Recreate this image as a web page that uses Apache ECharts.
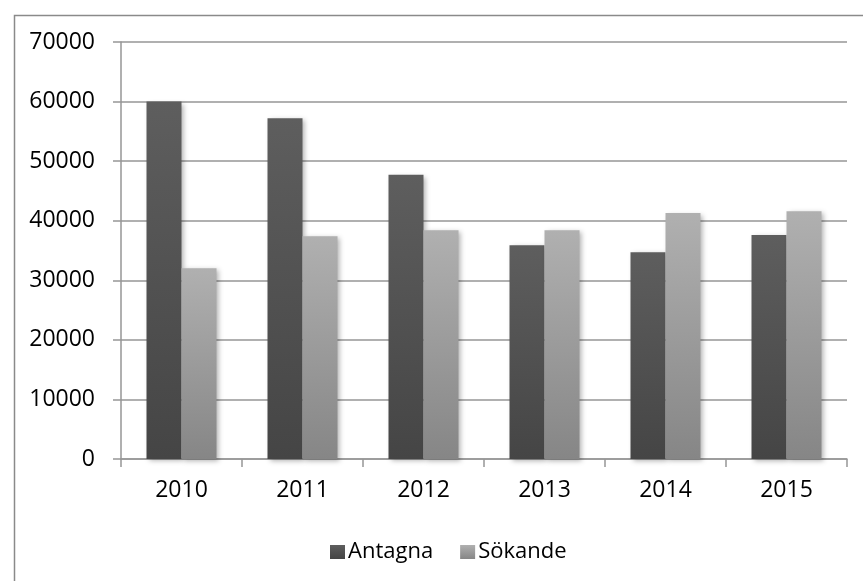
<!DOCTYPE html>
<html>
<head>
<meta charset="utf-8">
<script src="https://cdn.jsdelivr.net/npm/echarts@6/dist/echarts.min.js"></script>
<style>
  html, body { margin: 0; padding: 0; background: #fff; }
  #chart { width: 863px; height: 581px; }
</style>
</head>
<body>
<div id="chart"></div>
<script>
const years = ['2010', '2011', '2012', '2013', '2014', '2015'];
const antagna = [60000, 57200, 47700, 35900, 34700, 37600];
const sokande = [32000, 37400, 38400, 38400, 41300, 41600];
const yTicks = [0, 10000, 20000, 30000, 40000, 50000, 60000, 70000];

const fontFamily = '"Open Sans", "Liberation Sans", sans-serif';
const lineColor = '#969696';

const grad = (top, bottom) => new echarts.graphic.LinearGradient(0, 0, 0, 1, [
    { offset: 0, color: top },
    { offset: 1, color: bottom }
]);

let chartDom = document.getElementById('chart');
let myChart = echarts.init(chartDom);
let option;

const barShadow = {
    shadowBlur: 5,
    shadowOffsetX: 2,
    shadowOffsetY: 2,
    shadowColor: 'rgba(0,0,0,0.3)'
};

option = {
    animation: false,
    textStyle: { fontFamily: fontFamily },
    graphic: [
        {
            type: 'rect',
            left: 12,
            top: 13,
            shape: { width: 900, height: 620 },
            style: { fill: 'none', stroke: '#8a8a8a', lineWidth: 1.5 },
            silent: true
        }
    ],
    grid: {
        left: 121,
        right: 16,
        top: 42,
        bottom: 122
    },
    legend: {
        left: 325,
        top: 536,
        itemWidth: 15,
        itemHeight: 14,
        itemGap: 27,
        icon: 'rect',
        textStyle: { fontSize: 22, color: '#000', fontFamily: fontFamily, padding: [0, 0, 0, -2] },
        data: ['Antagna', 'Sökande']
    },
    xAxis: {
        type: 'category',
        data: years,
        axisLine: { lineStyle: { color: lineColor, width: 1.5 } },
        axisTick: { show: true, length: 8, lineStyle: { color: lineColor, width: 1.5 } },
        axisLabel: { fontSize: 23, color: '#000', margin: 20, fontFamily: fontFamily }
    },
    yAxis: {
        type: 'value',
        min: yTicks[0],
        max: yTicks[yTicks.length - 1],
        interval: 10000,
        axisLine: { show: true, lineStyle: { color: lineColor, width: 1.5 } },
        axisTick: { show: true, length: 8, lineStyle: { color: lineColor, width: 1.5 } },
        splitLine: { lineStyle: { color: lineColor, width: 1.5 } },
        axisLabel: {
            fontSize: 23,
            color: '#000',
            margin: 26,
            fontFamily: fontFamily,
            formatter: v => String(v)
        }
    },
    series: [
        {
            name: 'Antagna',
            type: 'bar',
            barWidth: 35,
            barGap: '0%',
            itemStyle: Object.assign({ color: grad('#5e5e5e', '#454545') }, barShadow),
            data: antagna
        },
        {
            name: 'Sökande',
            type: 'bar',
            barWidth: 35,
            barGap: '0%',
            itemStyle: Object.assign({ color: grad('#b0b0b0', '#868686') }, barShadow),
            data: sokande
        }
    ]
};

option && myChart.setOption(option);
</script>
</body>
</html>
